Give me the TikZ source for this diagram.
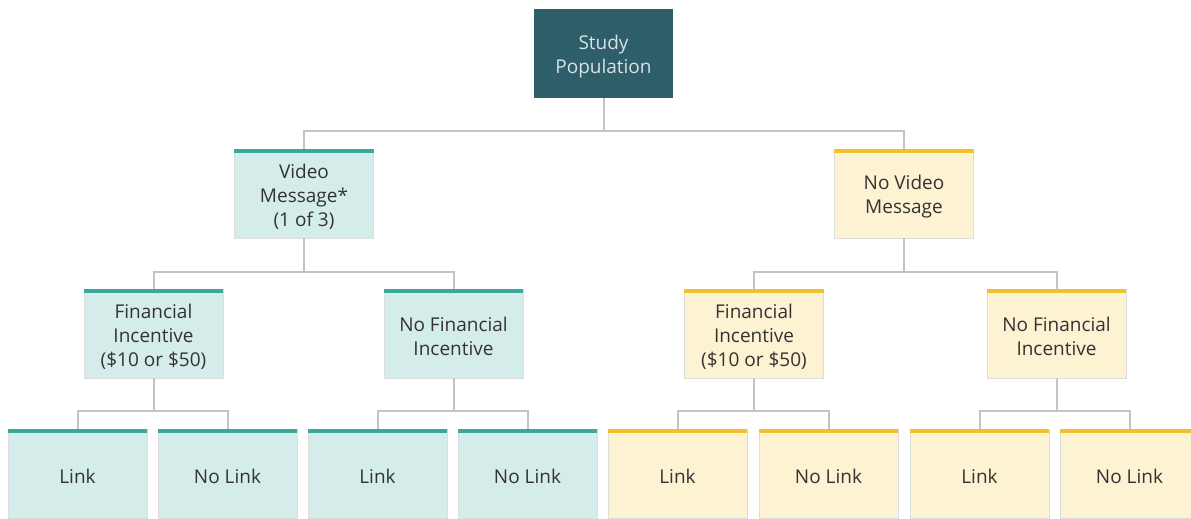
\documentclass[tikz,border=0pt]{standalone}
\usepackage{fontspec}
\setmainfont{Open Sans}
\definecolor{topfill}{HTML}{2E5E6A}
\definecolor{toptext}{HTML}{D6E3E6}
\definecolor{tealfill}{HTML}{D5EDEA}
\definecolor{tealbar}{HTML}{3AA99C}
\definecolor{yelfill}{HTML}{FDF2D2}
\definecolor{yelbar}{HTML}{F2C12E}
\definecolor{boxline}{HTML}{DDDDDD}
\definecolor{textgray}{HTML}{333333}
\definecolor{conncol}{HTML}{C4C4C4}
\begin{document}
\begin{tikzpicture}[x=1pt,y=-1pt,
  box/.style={draw=boxline, line width=0.8pt, minimum width=139pt, minimum height=89pt,
    inner sep=0pt},
  lab/.style={align=center, font=\fontsize{19}{24}\selectfont, text=textgray, inner sep=0pt, yshift=-3pt},
  toplab/.style={lab, text=toptext},
  topbox/.style={box, draw=none, fill=topfill},
  tealbox/.style={box, fill=tealfill},
  yelbox/.style={box, fill=yelfill},
  tbar/.style={draw=tealbar, line width=4pt},
  ybar/.style={draw=yelbar, line width=4pt},
  conn/.style={draw=conncol, line width=2pt}]
\useasboundingbox (0,0) rectangle (1191,519);
\clip (0,0) rectangle (1191,519);
% nodes
\node[topbox, label={[toplab]center:Study\\Population}] (top) at (603.5,53.5) {};
\node[tealbox, label={[lab]center:Video\\Message*\\(1 of 3)}] (v) at (304,193.5) {};
\node[yelbox, label={[lab]center:No Video\\Message}] (nv) at (904,193.5) {};
\node[tealbox, label={[lab]center:Financial\\Incentive\\(\$10 or \$50)}] (f1) at (153.5,333.5) {};
\node[tealbox, label={[lab]center:No Financial\\Incentive}] (f2) at (453.5,333.5) {};
\node[yelbox, label={[lab]center:Financial\\Incentive\\(\$10 or \$50)}] (f3) at (754,333.5) {};
\node[yelbox, label={[lab]center:No Financial\\Incentive}] (f4) at (1056.5,333.5) {};
\node[tealbox, label={[lab]center:Link}] (l1) at (77.5,473.5) {};
\node[tealbox, label={[lab]center:No Link}] (l2) at (227.5,473.5) {};
\node[tealbox, label={[lab]center:Link}] (l3) at (377.5,473.5) {};
\node[tealbox, label={[lab]center:No Link}] (l4) at (527.5,473.5) {};
\node[yelbox, label={[lab]center:Link}] (l5) at (677.5,473.5) {};
\node[yelbox, label={[lab]center:No Link}] (l6) at (828.5,473.5) {};
\node[yelbox, label={[lab]center:Link}] (l7) at (979.5,473.5) {};
\node[yelbox, label={[lab]center:No Link}] (l8) at (1129.5,473.5) {};
% top bars
\foreach \n in {v,f1,f2,l1,l2,l3,l4}
  \draw[tbar] ([yshift=-2pt]\n.north west) -- ([yshift=-2pt]\n.north east);
\foreach \n in {nv,f3,f4,l5,l6,l7,l8}
  \draw[ybar] ([yshift=-2pt]\n.north west) -- ([yshift=-2pt]\n.north east);
% connectors
\draw[conn] (top.south) -- ++(0,33) -| (v.north);
\draw[conn] (top.south) -- ++(0,33) -| (nv.north);
\draw[conn] (v.south) -- ++(0,34) -| (f1.north);
\draw[conn] (v.south) -- ++(0,34) -| (f2.north);
\draw[conn] (nv.south) -- ++(0,34) -| (f3.north);
\draw[conn] (nv.south) -- ++(0,34) -| (f4.north);
\draw[conn] (f1.south) -- ++(0,33) -| (l1.north);
\draw[conn] (f1.south) -- ++(0,33) -| (l2.north);
\draw[conn] (f2.south) -- ++(0,33) -| (l3.north);
\draw[conn] (f2.south) -- ++(0,33) -| (l4.north);
\draw[conn] (f3.south) -- ++(0,33) -| (l5.north);
\draw[conn] (f3.south) -- ++(0,33) -| (l6.north);
\draw[conn] (f4.south) -- ++(0,33) -| (l7.north);
\draw[conn] (f4.south) -- ++(0,33) -| (l8.north);
\end{tikzpicture}
\end{document}
